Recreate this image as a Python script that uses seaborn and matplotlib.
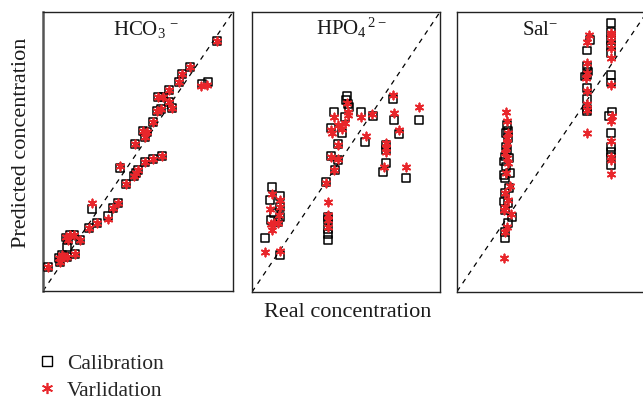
import numpy as np
import pandas as pd
import matplotlib
matplotlib.use("Agg")
import matplotlib.pyplot as plt
from matplotlib.lines import Line2D
import seaborn as sns

# ---------------- data (normalised concentration, 0-100) ----------------
hco3_cal_x = [2.5, 8.4, 9.8, 10.9, 12.6, 16.8, 8.8, 12.6, 13.0, 12.3, 14.1, 16.5, 19.3, 24.2, 28.4,
              25.9, 34.1, 36.8, 39.3, 40.7, 43.5, 47.7, 49.1, 50.2, 53.7, 57.9, 62.5, 48.3, 52.5,
              54.9, 53.5, 58.1, 60.2, 61.9, 68.1, 66.2, 60.4, 63.3, 66.2, 71.7, 73.3, 77.4, 83.7,
              86.7, 91.4]
hco3_cal_y = [8.7, 11.7, 12.9, 12.3, 12.3, 13.3, 10.5, 15.9, 18.3, 19.2, 20.1, 20.2, 18.3, 22.6, 24.5,
              29.3, 26.9, 29.6, 31.4, 44.0, 38.4, 41.2, 42.4, 43.4, 46.2, 47.2, 48.4, 52.8, 57.5,
              57.0, 55.1, 60.5, 64.6, 65.3, 65.5, 67.8, 69.6, 69.6, 72.0, 75.0, 77.7, 80.4, 74.2,
              74.8, 89.6]
hco3_val_x = [2.5, 8.4, 9.8, 10.9, 12.6, 16.8, 8.8, 13.0, 12.3, 14.1, 16.5, 19.3, 24.2, 28.4,
              25.9, 34.1, 36.8, 39.3, 40.7, 43.5, 47.7, 49.1, 50.2, 53.7, 57.9, 62.5, 48.3, 52.5,
              54.9, 53.5, 58.1, 60.2, 61.9, 68.1, 66.2, 60.4, 63.3, 66.2, 71.7, 73.3, 77.4, 83.4,
              86.4, 91.4]
hco3_val_y = [8.7, 11.7, 12.9, 12.3, 12.3, 13.3, 10.5, 18.3, 19.2, 20.1, 20.2, 18.3, 22.6, 24.5,
              31.4, 25.7, 29.6, 31.4, 44.8, 38.4, 41.2, 42.4, 43.4, 46.2, 47.2, 48.4, 52.8, 57.5,
              57.0, 55.1, 60.5, 64.6, 65.3, 65.5, 67.8, 69.6, 69.6, 72.0, 75.0, 77.7, 80.4, 73.3,
              73.8, 89.6]

hpo4_cal_x = [50.7, 49.8, 50.9, 51.4, 43.8, 49.5, 58.0, 64.2, 42.2, 47.7, 45.6, 41.9, 45.6, 44.0,
              39.4, 60.3, 74.8, 75.7, 78.0, 88.8, 71.4, 69.8, 81.9, 71.1, 71.3, 40.6, 40.3, 40.3,
              40.6, 40.3, 10.5, 14.7, 9.7, 15.1, 11.9, 15.1, 10.1, 13.7, 6.9, 14.7]
hpo4_cal_y = [70.1, 68.6, 67.1, 66.2, 64.2, 62.4, 64.2, 63.0, 58.7, 56.9, 53.0, 48.6, 47.1, 43.6,
              39.2, 53.5, 68.9, 61.4, 56.3, 61.4, 46.0, 43.0, 40.8, 52.5, 50.7, 26.9, 25.7, 22.4,
              20.7, 18.6, 37.6, 34.3, 32.9, 30.5, 28.1, 26.9, 25.7, 25.1, 19.3, 13.3]
hpo4_val_x = [50.4, 50.9, 51.2, 43.8, 45.9, 47.9, 49.5, 42.6, 42.0, 45.7, 42.0, 45.7, 43.8, 39.5,
              58.0, 64.0, 60.5, 74.8, 75.7, 78.0, 88.7, 71.1, 71.3, 71.3, 70.0, 81.9, 40.4, 40.3,
              40.3, 40.3, 10.5, 14.7, 14.9, 9.7, 14.5, 10.1, 11.9, 13.7, 10.5, 6.9, 14.7]
hpo4_val_y = [67.4, 64.4, 63.2, 62.4, 59.6, 58.1, 60.5, 56.9, 57.9, 52.5, 48.1, 47.4, 43.6, 38.8,
              62.4, 63.5, 55.7, 70.4, 64.0, 57.9, 66.2, 53.1, 51.3, 50.1, 44.5, 44.5, 32.0, 27.5,
              25.7, 23.3, 35.0, 32.9, 30.5, 29.5, 27.5, 24.2, 24.8, 24.8, 22.1, 14.4, 14.8]

sal_cal_x = [80.9, 80.9, 80.9, 80.9, 80.9, 80.9, 80.9, 81.7, 80.2, 80.9, 80.9, 80.9, 80.9, 80.9,
             70.0, 68.6, 68.3, 68.8, 68.3, 67.5, 68.6, 68.3, 68.6, 68.6,
             26.2, 27.0, 25.8, 27.0, 25.8, 26.5, 25.3, 27.5, 24.7, 25.8, 27.9, 24.7, 25.3, 27.5,
             25.3, 24.7, 27.0, 25.3, 28.8, 27.0, 25.3, 25.3]
sal_cal_y = [96.2, 92.7, 90.1, 87.7, 85.4, 77.6, 74.8, 64.4, 62.7, 56.8, 51.6, 50.0, 48.3, 45.2,
             90.1, 86.2, 80.6, 78.7, 77.6, 76.9, 72.8, 68.8, 65.2, 64.4,
             59.7, 57.3, 56.7, 54.9, 51.9, 50.7, 48.3, 47.7, 46.5, 44.7, 42.4, 41.8, 40.6, 37.0,
             35.2, 32.2, 31.6, 29.2, 26.8, 24.4, 21.4, 19.1]
sal_val_x = [80.9, 80.9, 80.9, 80.9, 80.9, 80.9, 81.7, 80.9, 80.9, 80.9, 80.9, 80.9,
             69.6, 68.6, 68.3, 68.3, 67.9, 68.6, 68.3, 68.6, 68.3,
             25.8, 26.2, 27.0, 26.2, 26.5, 25.8, 25.3, 26.2, 27.0, 25.8, 27.9, 25.3, 27.0, 25.3,
             24.7, 28.3, 26.5, 25.3, 24.7]
sal_val_y = [92.5, 91.9, 89.5, 87.2, 83.6, 74.0, 62.7, 60.9, 53.7, 48.3, 47.0, 42.1,
             91.9, 89.1, 81.9, 78.2, 76.5, 71.9, 67.2, 64.9, 56.7,
             64.4, 60.9, 56.7, 54.9, 53.1, 51.3, 49.5, 47.7, 45.9, 42.4, 37.6, 35.4, 32.8, 30.4,
             29.2, 27.8, 23.2, 21.4, 11.9]

panel_titles = [r"HCO$_3$$^{\,-}$", r"HPO$_4$$^{\,2-}$", r"Sal$^{-}$"]
legend_labels = ["Calibration", "Varlidation"]
x_label = "Real concentration"
y_label = "Predicted concentration"

# ---------------- styling ----------------
sns.set_theme(style="white")
plt.rcParams["font.family"] = ["Liberation Serif", "DejaVu Serif"]
plt.rcParams["mathtext.fontset"] = "custom"
plt.rcParams["mathtext.rm"] = "Liberation Serif"
plt.rcParams["mathtext.it"] = "Liberation Serif:italic"
plt.rcParams["mathtext.default"] = "rm"

RED = "#e8262b"
TXT = "#1a1a1a"

fig = plt.figure(figsize=(6.43, 4.0), dpi=100)
W, H = 643.0, 400.0
positions = [
    (43 / W, (H - 291) / H, 190 / W, 279 / H),
    (252 / W, (H - 292) / H, 188 / W, 280 / H),
    (457 / W, (H - 291.5) / H, 190 / W, 279.5 / H),
]
title_x = [0.54, 0.53, 0.437]

panels = [
    (hco3_cal_x, hco3_cal_y, hco3_val_x, hco3_val_y),
    (hpo4_cal_x, hpo4_cal_y, hpo4_val_x, hpo4_val_y),
    (sal_cal_x, sal_cal_y, sal_val_x, sal_val_y),
]

for i, (cx, cy, vx, vy) in enumerate(panels):
    ax = fig.add_axes(positions[i])
    cal = pd.DataFrame({"real": cx, "pred": cy})
    val = pd.DataFrame({"real": vx, "pred": vy})
    sns.scatterplot(data=cal, x="real", y="pred", ax=ax, marker="s", s=32,
                    facecolor="none", edgecolor="black", linewidth=1.1, zorder=3)
    sns.scatterplot(data=val, x="real", y="pred", ax=ax, marker=(6, 2, 0), s=34,
                    color=RED, edgecolor=RED, linewidth=1.3, zorder=4)
    ax.axline((0, 0), slope=1, color="black", lw=0.9, ls=(0, (4, 4)), zorder=2)
    ax.set_xlim(0, 100)
    ax.set_ylim(0, 100)
    ax.set_xticks([])
    ax.set_yticks([])
    ax.set_xlabel("")
    ax.set_ylabel("")
    for sp in ax.spines.values():
        sp.set_color("#222222")
        sp.set_linewidth(1.0)
        sp.set_visible(True)
    if i == 0:
        ax.spines["left"].set_linewidth(1.8)
        ax.spines["left"].set_color("#555555")
    ax.text(title_x[i], 0.917, panel_titles[i], transform=ax.transAxes,
            ha="center", va="baseline", fontsize=15, color=TXT)

fig.text(0.5404, 0.218, x_label, ha="center", va="center", fontsize=16, color=TXT)
fig.text(0.034, 0.642, y_label, ha="center", va="center", rotation=90,
         fontsize=16, color=TXT)

handles = [
    Line2D([], [], ls="none", marker="s", mfc="none", mec="black", ms=6.5, mew=1.0),
    Line2D([], [], ls="none", marker=(6, 2, 0), color=RED, mec=RED, ms=8, mew=1.2),
]
fig.legend(handles, legend_labels, loc="upper left", bbox_to_anchor=(36 / W, 0.116),
           frameon=False, fontsize=15.5, handlelength=1.0, handletextpad=0.43,
           labelspacing=0.32, borderpad=0, borderaxespad=0)

fig.savefig("out.png", dpi=100)
